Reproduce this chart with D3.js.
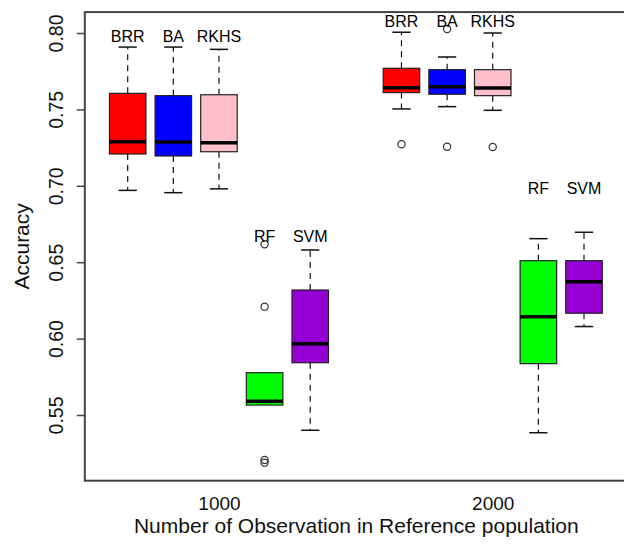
<!DOCTYPE html>
<html>
<head>
<meta charset="utf-8">
<script src="https://cdn.jsdelivr.net/npm/d3@7"></script>
<style>
  body { margin: 0; background: #fff; }
  svg { font-family: "Liberation Sans", Arial, sans-serif; }
</style>
</head>
<body>
<svg id="chart" width="624" height="544"></svg>
<script>
// data
const groups = ["1000", "2000"]
const methods = ["BRR", "BA", "RKHS", "RF", "SVM"]
const boxColors = ["#ff0000", "#0000ff", "#ffc0cb", "#00ff00", "#9400d3"]

// one row per group, one value per method
const whiskerLow = [[0.697, 0.6955, 0.698, 0.5565, 0.540], [0.7503, 0.7518, 0.7494, 0.5384, 0.6079]]
const q1 = [[0.7208, 0.7195, 0.7223, 0.5565, 0.5842], [0.761, 0.7599, 0.759, 0.5836, 0.6166]]
const median = [[0.7289, 0.7287, 0.7282, 0.559, 0.5967], [0.7642, 0.7649, 0.764, 0.6143, 0.6372]]
const q3 = [[0.7605, 0.759, 0.7596, 0.5777, 0.6318], [0.7769, 0.776, 0.776, 0.651, 0.651]]
const whiskerHigh = [[0.7908, 0.7908, 0.7893, 0.5777, 0.658], [0.8005, 0.7843, 0.80, 0.6654, 0.6696]]
const outliers = [[[], [], [], [0.6617, 0.6209, 0.5206, 0.5188], []], [[0.7272], [0.8026, 0.7256], [0.7254], [], []]]
// where the method names are written (value units)
const labelAt = [[0.7943, 0.7943, 0.7943, 0.6634, 0.6634], [0.8041, 0.8041, 0.8041, 0.6944, 0.6944]]

const yTicks = [0.55, 0.60, 0.65, 0.70, 0.75, 0.80]

var svg = d3.select('#chart')

// box positions 1..5 and 7..11, like R boxplot(at=...)
var pos = (gi, mi) => gi * 6 + mi + 1

var x_scale = d3.scaleLinear()
    .domain([1, 11])
    .range([127.7, 584])
var y_scale = d3.scaleLinear()
    .domain([0.55, 0.80])
    .range([415, 33])

var boxW = (x_scale(2) - x_scale(1)) * 0.8
var plotLeft = x_scale(0.06), plotRight = x_scale(11.94)
var plotTop = y_scale(0.8137), plotBottom = y_scale(0.507)

// build the box list
var boxes = []
groups.forEach((g, gi) => {
    methods.forEach((m, mi) => {
        boxes.push({
            p: pos(gi, mi), name: m, color: boxColors[mi],
            lo: whiskerLow[gi][mi], q1: q1[gi][mi], med: median[gi][mi],
            q3: q3[gi][mi], hi: whiskerHigh[gi][mi],
            out: outliers[gi][mi], lab: labelAt[gi][mi]
        })
    })
})

var gb = svg.selectAll('g.box')
    .data(boxes)
    .enter()
    .append('g')
    .attr('class', 'box')

// whiskers (dashed)
gb.append('line')
    .attr('x1', d => x_scale(d.p)).attr('x2', d => x_scale(d.p))
    .attr('y1', d => y_scale(d.q3)).attr('y2', d => y_scale(d.hi))
    .attr('stroke', '#111').attr('stroke-width', 1.2).attr('stroke-dasharray', '6,5')
gb.append('line')
    .attr('x1', d => x_scale(d.p)).attr('x2', d => x_scale(d.p))
    .attr('y1', d => y_scale(d.q1)).attr('y2', d => y_scale(d.lo))
    .attr('stroke', '#111').attr('stroke-width', 1.2).attr('stroke-dasharray', '6,5')

// staples
gb.filter(d => d.hi > d.q3).append('line')
    .attr('x1', d => x_scale(d.p) - boxW / 4).attr('x2', d => x_scale(d.p) + boxW / 4)
    .attr('y1', d => y_scale(d.hi)).attr('y2', d => y_scale(d.hi))
    .attr('stroke', '#111').attr('stroke-width', 1.5)
gb.filter(d => d.lo < d.q1).append('line')
    .attr('x1', d => x_scale(d.p) - boxW / 4).attr('x2', d => x_scale(d.p) + boxW / 4)
    .attr('y1', d => y_scale(d.lo)).attr('y2', d => y_scale(d.lo))
    .attr('stroke', '#111').attr('stroke-width', 1.5)

// boxes
gb.append('rect')
    .attr('x', d => x_scale(d.p) - boxW / 2)
    .attr('width', boxW)
    .attr('y', d => y_scale(d.q3))
    .attr('height', d => y_scale(d.q1) - y_scale(d.q3))
    .attr('fill', d => d.color)
    .attr('stroke', '#222')
    .attr('stroke-width', 1.2)

// medians
gb.append('line')
    .attr('x1', d => x_scale(d.p) - boxW / 2).attr('x2', d => x_scale(d.p) + boxW / 2)
    .attr('y1', d => y_scale(d.med)).attr('y2', d => y_scale(d.med))
    .attr('stroke', '#000').attr('stroke-width', 3.5)

// outliers
gb.selectAll('circle')
    .data(d => d.out.map(v => ({ p: d.p, v: v })))
    .enter()
    .append('circle')
    .attr('cx', d => x_scale(d.p))
    .attr('cy', d => y_scale(d.v))
    .attr('r', 3.6)
    .attr('fill', 'none')
    .attr('stroke', '#333')
    .attr('stroke-width', 1.2)

// method names
gb.append('text')
    .attr('x', d => x_scale(d.p))
    .attr('y', d => y_scale(d.lab))
    .attr('text-anchor', 'middle')
    .style('font-size', '16px')
    .text(d => d.name)

// frame
svg.append('rect')
    .attr('x', plotLeft).attr('y', plotTop)
    .attr('width', plotRight - plotLeft).attr('height', plotBottom - plotTop)
    .attr('fill', 'none')
    .attr('stroke', '#444')
    .attr('stroke-width', 2)

// y axis
var y_axis = d3.axisLeft()
    .scale(y_scale)
    .tickValues(yTicks)
    .tickSize(8)
    .tickFormat(d3.format('.2f'))
var ya = svg.append('g')
    .attr('transform', `translate(${plotLeft}, 0)`)
    .call(y_axis)
ya.select('.domain').remove()
ya.selectAll('.tick line').attr('stroke', '#444').attr('stroke-width', 1.5)
ya.selectAll('.tick text')
    .attr('transform', 'rotate(-90)')
    .attr('x', 0).attr('y', -22).attr('dy', null)
    .attr('text-anchor', 'middle')
    .attr('fill', '#111')
    .style('font-size', '19.5px')
    .style('font-family', '"Liberation Sans", Arial, sans-serif')

// x axis: group names under the middle box, no tick marks
var x_axis = d3.axisBottom()
    .scale(x_scale)
    .tickValues(groups.map((g, gi) => pos(gi, 2)))
    .tickFormat((d, i) => groups[i])
    .tickSize(0)
var xa = svg.append('g')
    .attr('transform', `translate(0, ${plotBottom})`)
    .call(x_axis)
xa.select('.domain').remove()
xa.selectAll('.tick text')
    .attr('y', 29).attr('dy', null)
    .attr('fill', '#111')
    .style('font-size', '19px')
    .style('font-family', '"Liberation Sans", Arial, sans-serif')

// axis titles
svg.append('text')
    .attr('x', (x_scale(1) + x_scale(11)) / 2 + 0.5)
    .attr('y', 533)
    .attr('text-anchor', 'middle')
    .style('font-size', '21px')
    .attr('fill', '#111')
    .text('Number of Observation in Reference population')

svg.append('text')
    .attr('transform', `translate(29, ${(plotTop + plotBottom) / 2}) rotate(-90)`)
    .attr('text-anchor', 'middle')
    .style('font-size', '21px')
    .attr('fill', '#111')
    .text('Accuracy')
</script>
</body>
</html>
